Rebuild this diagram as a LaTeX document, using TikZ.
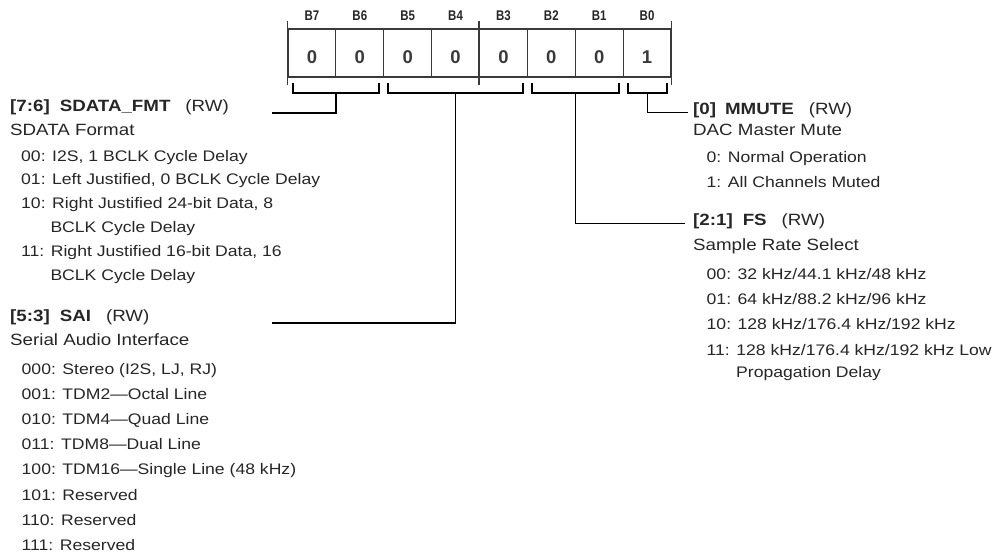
\documentclass[tikz,border=0pt]{standalone}
\usepackage{fontspec}
\setmainfont[FakeStretch=1.15]{Liberation Sans}
\newfontfamily\bitfont[FakeStretch=0.82]{Liberation Sans}
\newfontfamily\valfont{Liberation Sans}
\definecolor{txt}{HTML}{262626}
\definecolor{boxc}{HTML}{3A3A3A}
\begin{document}
\begin{tikzpicture}[x=1pt,y=-1pt,
  cellbox/.style={draw=boxc,line width=1.2pt,minimum width=47.875pt,minimum height=48pt,inner sep=0pt},
  valtext/.style={inner sep=0pt,text=boxc,font=\valfont\bfseries\fontsize{18.5}{20}\selectfont},
  bittext/.style={inner sep=0pt,text=txt,font=\bitfont\bfseries\fontsize{14}{16}\selectfont},
  hdr/.style={anchor=base west,inner sep=0pt,text=txt,font=\fontsize{16.3}{18}\selectfont},
  item/.style={anchor=base west,inner sep=0pt,text=txt,font=\fontsize{15.3}{17}\selectfont},
  conn/.style={draw=black,line width=1.2pt},
  tick/.style={draw=boxc,line width=1.2pt}]
\fill[white] (0,0) rectangle (994,554);
\useasboundingbox (0,0) rectangle (994,554);
% register cells
\foreach \i/\b/\v in {0/7/0,1/6/0,2/5/0,3/4/0,4/3/0,5/2/0,6/1/0,7/0/1}{
  \pgfmathsetmacro\cx{311.94+47.875*\i}
  \node[cellbox] (c\b) at (\cx,53) {};
  \node[valtext] (v\b) at (\cx,57) {\v};
  \node[bittext] (b\b) at (\cx,15.5) {B\b};
}
% ticks
\draw[tick] ([yshift=7pt]c7.north west) -- ([yshift=-7pt]c7.south west);
\draw[tick] ([yshift=7pt]c3.north west) -- ([yshift=-7pt]c3.south west);
\draw[tick] ([yshift=7pt]c0.north east) -- ([yshift=-7pt]c0.south east);
% brackets
\coordinate (l76) at (293,83); \coordinate (r76) at (379,83); \coordinate (k76) at (336,93);
\coordinate (l53) at (388,83); \coordinate (r53) at (523,83); \coordinate (k53) at (455.5,93);
\coordinate (l21) at (532,83); \coordinate (r21) at (619,83); \coordinate (k21) at (575.5,93);
\coordinate (l0)  at (628,83); \coordinate (r0)  at (667,83); \coordinate (k0)  at (647.5,93);
\foreach \n in {76,53,21,0}{
  \draw[conn] (l\n) |- (k\n) -| (r\n);
}
% connector ends
\coordinate (e76) at (272,113);
\coordinate (e53) at (272,323);
\coordinate (e21) at (685,223.3);
\coordinate (e0)  at (688,112.3);
\draw[conn] (k76) |- (e76);
\draw[conn] (k53) |- (e53);
\draw[conn] (k21) |- (e21);
\draw[conn] (k0)  |- (e0);
% SDATA_FMT
\node[hdr] (h76) at (10,111) {{\bfseries [7:6]\hspace{10pt}SDATA\_FMT}\hspace{15pt}(RW)};
\node[hdr] (s76) at (10,135.5) {SDATA Format};
\node[item] (i76a) at (21,161) {00: I2S, 1 BCLK Cycle Delay};
\node[item] (i76b) at (21,184.8) {01: Left Justified, 0 BCLK Cycle Delay};
\node[item] (i76c) at (21,208.6) {10: Right Justified 24-bit Data, 8};
\node[item] (i76d) at (50.3,232.4) {BCLK Cycle Delay};
\node[item] (i76e) at (21,256.2) {11: Right Justified 16-bit Data, 16};
\node[item] (i76f) at (50.3,280) {BCLK Cycle Delay};
% SAI
\node[hdr] (h53) at (10,321.5) {{\bfseries [5:3]\hspace{10pt}SAI}\hspace{15pt}(RW)};
\node[hdr] (s53) at (10,345) {Serial Audio Interface};
\foreach \k/\t in {0/{000: Stereo (I2S, LJ, RJ)},1/{001: TDM2—Octal Line},2/{010: TDM4—Quad Line},3/{011: TDM8—Dual Line},4/{100: TDM16—Single Line (48 kHz)},5/{101: Reserved},6/{110: Reserved},7/{111: Reserved}}{
  \node[item] (i53\k) at (21.5,374+25.2*\k) {\t};
}
% MMUTE
\node[hdr] (h0) at (693,114) {{\bfseries [0]\hspace{9pt}MMUTE}\hspace{15pt}(RW)};
\node[hdr] (s0) at (693,135.5) {DAC Master Mute};
\node[item] (i0a) at (706.5,162) {0: Normal Operation};
\node[item] (i0b) at (706.5,187) {1: All Channels Muted};
% FS
\node[hdr] (h21) at (693,225.5) {{\bfseries [2:1]\hspace{10pt}FS}\hspace{15pt}(RW)};
\node[hdr] (s21) at (693,250.5) {Sample Rate Select};
\node[item] (i21a) at (706.5,279) {00: 32 kHz/44.1 kHz/48 kHz};
\node[item] (i21b) at (706.5,304) {01: 64 kHz/88.2 kHz/96 kHz};
\node[item] (i21c) at (706.5,329.5) {10: 128 kHz/176.4 kHz/192 kHz};
\node[item] (i21d) at (706.5,355) {11: 128 kHz/176.4 kHz/192 kHz Low};
\node[item] (i21e) at (736,377.5) {Propagation Delay};
\end{tikzpicture}
\end{document}
